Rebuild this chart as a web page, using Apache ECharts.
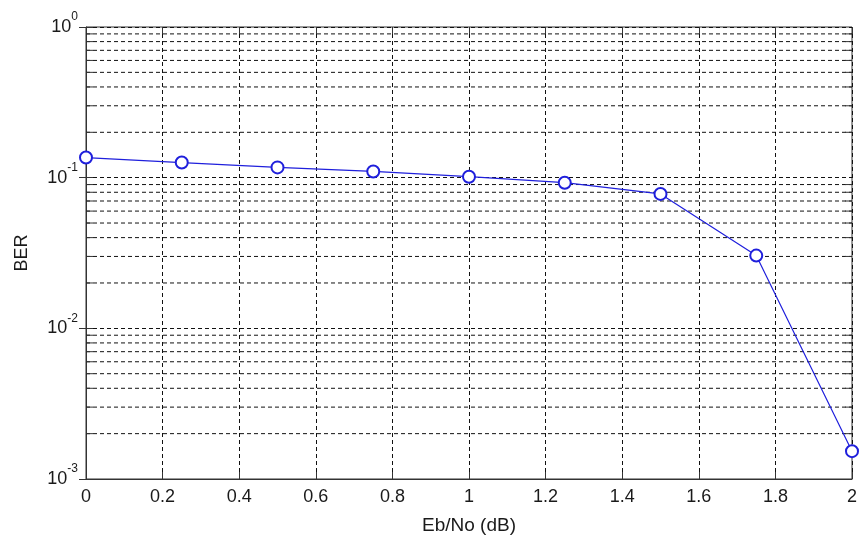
<!DOCTYPE html>
<html>
<head>
<meta charset="utf-8">
<script src="https://cdn.jsdelivr.net/npm/echarts@6/dist/echarts.min.js"></script>
<style>
  html, body { margin: 0; padding: 0; background: #fff; }
  #chart { width: 861px; height: 535px; }
</style>
</head>
<body>
<div id="chart"></div>
<script>
// Eb/No (dB) and measured BER
const ebno = [0, 0.25, 0.5, 0.75, 1, 1.25, 1.5, 1.75, 2]
const ber = [0.136, 0.126, 0.117, 0.110, 0.1015, 0.0926, 0.078, 0.0304, 0.00153]
// log grid lines between the decades
const minorGrid = [
  0.002, 0.003, 0.004, 0.005, 0.006, 0.007, 0.008, 0.009,
  0.02, 0.03, 0.04, 0.05, 0.06, 0.07, 0.08, 0.09,
  0.2, 0.3, 0.4, 0.5, 0.6, 0.7, 0.8, 0.9
]

const font = 'Liberation Sans, Arial, sans-serif'
const ink = '#1a1a1a'
const dash = { type: [4, 3], color: '#111', width: 1 }

const chart = echarts.init(document.getElementById('chart'))

chart.setOption({
  animation: false,
  backgroundColor: '#fff',
  grid: {
    left: 86,
    right: 9,
    top: 27,
    bottom: 56,
    outerBoundsMode: 'none',
    containLabel: false,
    show: true,
    borderColor: '#333',
    borderWidth: 1
  },
  xAxis: [{
    type: 'value',
    min: 0,
    max: 2,
    interval: 0.2,
    name: 'Eb/No (dB)',
    nameLocation: 'middle',
    nameGap: 37,
    nameTextStyle: { fontFamily: font, fontSize: 19, color: ink },
    axisLine: { show: true, lineStyle: { color: '#333' } },
    axisTick: { inside: true, length: 7, lineStyle: { color: '#333' } },
    axisLabel: { fontFamily: font, fontSize: 18, color: ink, margin: 9 },
    splitLine: { show: true, lineStyle: dash }
  }, {
    type: 'value',
    position: 'top',
    min: 0,
    max: 2,
    interval: 0.2,
    axisLine: { show: false },
    axisTick: { inside: true, length: 7, lineStyle: { color: '#333' } },
    axisLabel: { show: false },
    splitLine: { show: false }
  }],
  yAxis: [{
    type: 'log',
    logBase: 10,
    min: 0.001,
    max: 1,
    name: 'BER',
    nameLocation: 'middle',
    nameGap: 55,
    nameRotate: 90,
    nameTextStyle: { fontFamily: font, fontSize: 18, color: ink },
    axisLine: { show: true, lineStyle: { color: '#333' } },
    axisTick: { inside: true, length: 7, lineStyle: { color: '#333' } },
    axisLabel: {
      margin: 8,
      formatter: (v) => '{b|10}{s|' + Math.round(Math.log10(v)) + '}',
      rich: {
        b: { fontFamily: font, fontSize: 18, color: ink, lineHeight: 32 },
        s: { fontFamily: font, fontSize: 12, color: ink, lineHeight: 12, verticalAlign: 'top' }
      }
    },
    splitLine: { show: true, lineStyle: dash }
  }, {
    type: 'log',
    logBase: 10,
    position: 'right',
    min: 0.001,
    max: 1,
    axisLine: { show: false },
    axisTick: { inside: true, length: 7, lineStyle: { color: '#333' } },
    axisLabel: { show: false },
    splitLine: { show: false }
  }],
  series: [
    {
      // dashed minor grid + minor log ticks on left and right edges
      type: 'custom',
      xAxisIndex: 0,
      yAxisIndex: 0,
      silent: true,
      data: minorGrid.map(v => [0, v]),
      renderItem(params, api) {
        const a = api.coord([0, api.value(1)])
        const b = api.coord([2, api.value(1)])
        const st = { stroke: '#333', lineWidth: 1 }
        return {
          type: 'group',
          children: [
            { type: 'line', shape: { x1: a[0], y1: a[1], x2: b[0], y2: b[1] }, style: { stroke: '#111', lineWidth: 1, lineDash: [4, 3] } },
            { type: 'line', shape: { x1: a[0], y1: a[1], x2: a[0] + 7, y2: a[1] }, style: st },
            { type: 'line', shape: { x1: b[0] - 7, y1: b[1], x2: b[0], y2: b[1] }, style: st }
          ]
        }
      }
    },
    {
      name: 'BER',
      type: 'line',
      xAxisIndex: 0,
      yAxisIndex: 0,
      data: ebno.map((x, i) => [x, ber[i]]),
      symbol: 'emptyCircle',
      symbolSize: 12,
      itemStyle: { color: '#1f1fdc', borderWidth: 1.2 },
      lineStyle: { color: '#1f1fdc', width: 1.2 },
      z: 5
    }
  ]
})
</script>
</body>
</html>
